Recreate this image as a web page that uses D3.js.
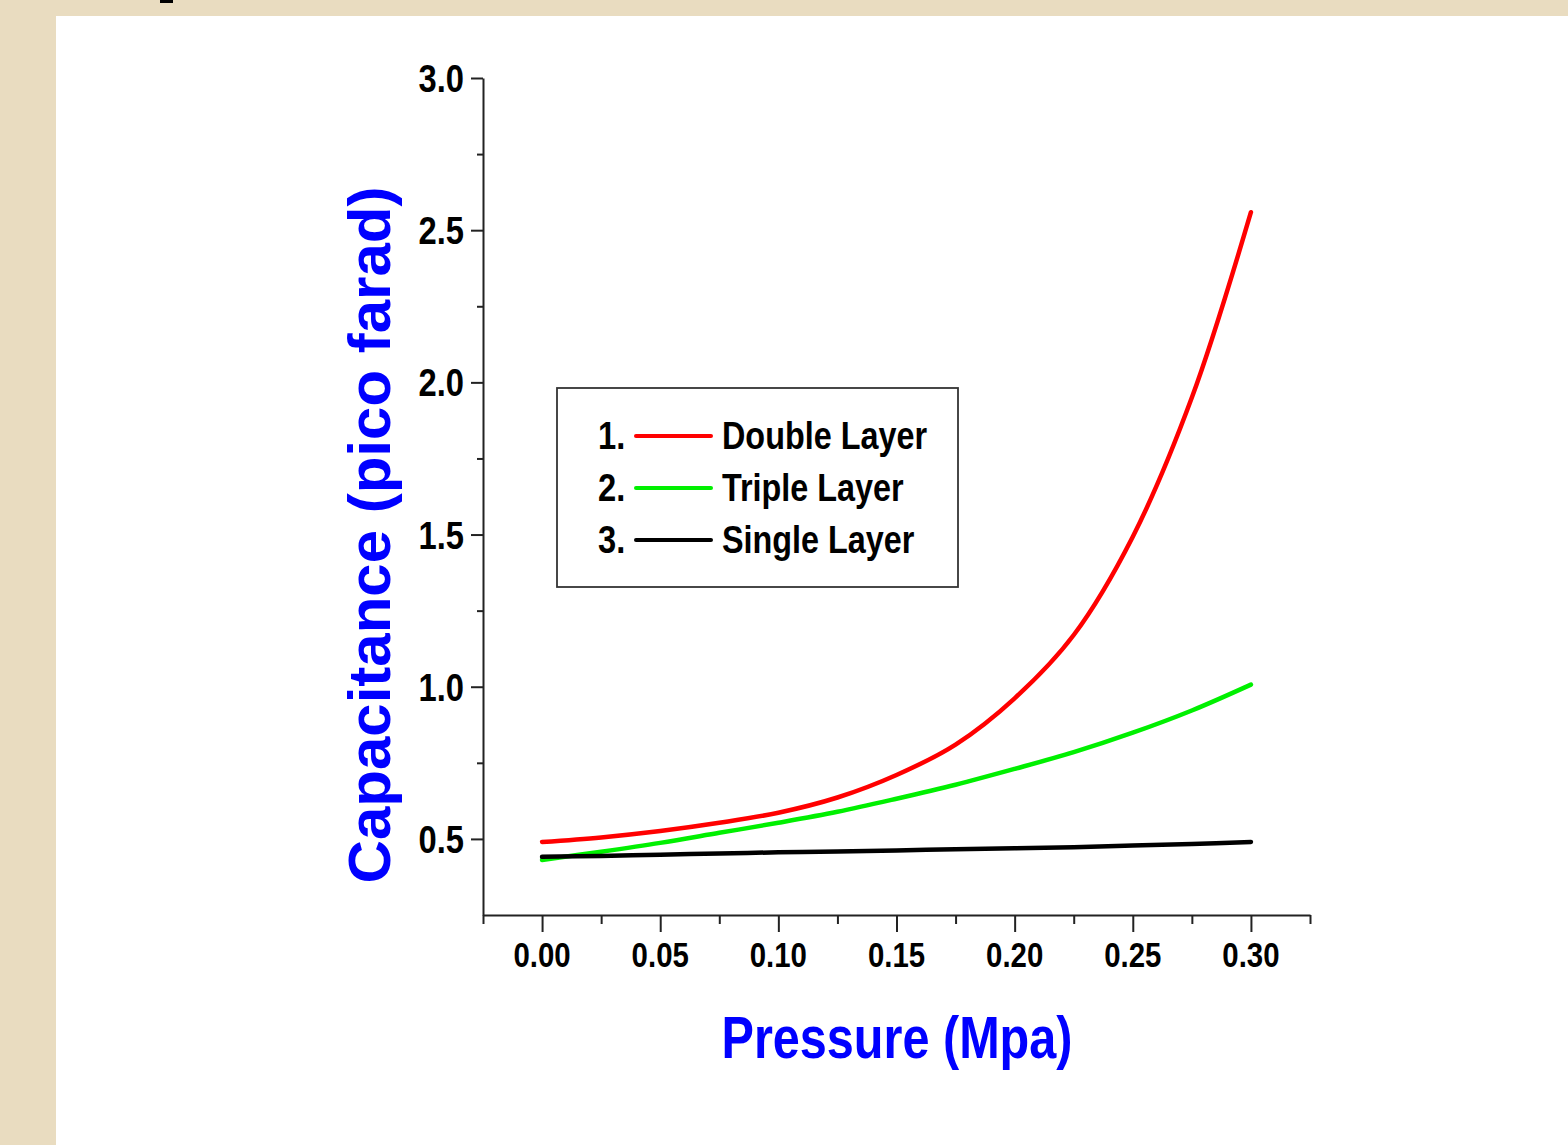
<!DOCTYPE html>
<html>
<head>
<meta charset="utf-8">
<title>Capacitance vs Pressure</title>
<script src="https://d3js.org/d3.v7.min.js"></script>
<style>
  body { margin: 0; background: #e9dcc0; }
  svg text { font-family: "Liberation Sans", Arial, sans-serif; font-weight: bold; }
</style>
</head>
<body>
<div id="chart"></div>
<script>
// data
var pressure = [0.000, 0.025, 0.050, 0.075, 0.100, 0.125, 0.150, 0.175, 0.200, 0.225, 0.250, 0.275, 0.300];
var doubleLayer = [0.490, 0.505, 0.526, 0.553, 0.586, 0.636, 0.710, 0.810, 0.962, 1.170, 1.493, 1.950, 2.559];
var tripleLayer = [0.431, 0.458, 0.487, 0.520, 0.553, 0.589, 0.632, 0.678, 0.730, 0.785, 0.849, 0.922, 1.007];
var singleLayer = [0.441, 0.444, 0.448, 0.452, 0.456, 0.459, 0.462, 0.466, 0.469, 0.473, 0.478, 0.483, 0.490];

var seriesNames = ["Double Layer", "Triple Layer", "Single Layer"];
var seriesColors = ["#ff0000", "#00f000", "#000000"];
var xTicks = [0.00, 0.05, 0.10, 0.15, 0.20, 0.25, 0.30];
var yTicks = [0.5, 1.0, 1.5, 2.0, 2.5, 3.0];

var W = 1568, H = 1145;
var svg = d3.select("#chart").append("svg")
    .attr("width", W)
    .attr("height", H);

// beige page + white panel
svg.append("rect").attr("width", W).attr("height", H).attr("fill", "#e9dcc0");
svg.append("rect").attr("x", 56).attr("y", 16).attr("width", W - 56).attr("height", H - 16).attr("fill", "#ffffff");
svg.append("rect").attr("x", 160).attr("y", 0).attr("width", 13).attr("height", 3).attr("fill", "#000");

var x = d3.scaleLinear().domain([-0.025, 0.325]).range([483, 1310]);
var y = d3.scaleLinear().domain([0.25, 3.0]).range([915, 78]);

var axisColor = "#222";

// x axis : minor + major ticks
var xMinor = d3.range(-0.025, 0.33, 0.05);
svg.append("g")
    .attr("transform", "translate(0,915)")
    .call(d3.axisBottom(x).tickValues(xMinor).tickSize(9).tickSizeOuter(0).tickFormat(""))
    .call(function (g) { g.select(".domain").attr("stroke", axisColor).attr("stroke-width", 2); })
    .call(function (g) { g.selectAll(".tick line").attr("stroke", axisColor).attr("stroke-width", 2); });
svg.append("g")
    .attr("transform", "translate(0,915)")
    .call(d3.axisBottom(x).tickValues(xTicks).tickSize(17).tickSizeOuter(0).tickFormat(""))
    .call(function (g) { g.select(".domain").remove(); })
    .call(function (g) { g.selectAll(".tick line").attr("stroke", axisColor).attr("stroke-width", 2); });

svg.selectAll(".xlab").data(xTicks).enter().append("text")
    .attr("class", "xlab")
    .attr("transform", function (d) { return "translate(" + x(d) + ",967) scale(0.84,1)"; })
    .attr("text-anchor", "middle")
    .attr("font-size", 35)
    .attr("fill", "#000")
    .text(function (d) { return d3.format(".2f")(d); });

// y axis
var yMinor = d3.range(0.75, 3.0, 0.5);
svg.append("g")
    .attr("transform", "translate(483,0)")
    .call(d3.axisLeft(y).tickValues(yMinor).tickSize(6).tickSizeOuter(0).tickFormat(""))
    .call(function (g) { g.select(".domain").attr("stroke", axisColor).attr("stroke-width", 2); })
    .call(function (g) { g.selectAll(".tick line").attr("stroke", axisColor).attr("stroke-width", 2); });
svg.append("g")
    .attr("transform", "translate(483,0)")
    .call(d3.axisLeft(y).tickValues(yTicks).tickSize(12).tickSizeOuter(0).tickFormat(""))
    .call(function (g) { g.select(".domain").remove(); })
    .call(function (g) { g.selectAll(".tick line").attr("stroke", axisColor).attr("stroke-width", 2); });

svg.selectAll(".ylab").data(yTicks).enter().append("text")
    .attr("class", "ylab")
    .attr("transform", function (d) { return "translate(464," + (y(d) + 14) + ") scale(0.84,1)"; })
    .attr("text-anchor", "end")
    .attr("font-size", 39)
    .attr("fill", "#000")
    .text(function (d) { return d3.format(".1f")(d); });

// axis titles
svg.append("text")
    .attr("transform", "translate(897,1058) scale(0.81,1)")
    .attr("text-anchor", "middle")
    .attr("font-size", 60)
    .attr("fill", "#0000ff")
    .text("Pressure (Mpa)");

svg.append("text")
    .attr("transform", "translate(390,535) rotate(-90)")
    .attr("text-anchor", "middle")
    .attr("font-size", 60)
    .attr("fill", "#0000ff")
    .text("Capacitance (pico farad)");

// curves
var allSeries = [doubleLayer, tripleLayer, singleLayer];
var line = d3.line()
    .x(function (d, i) { return x(pressure[i]); })
    .y(function (d) { return y(d); })
    .curve(d3.curveCatmullRom.alpha(0.5));

svg.selectAll(".curve").data(allSeries).enter().append("path")
    .attr("class", "curve")
    .attr("d", line)
    .attr("fill", "none")
    .attr("stroke", function (d, i) { return seriesColors[i]; })
    .attr("stroke-width", 4.5)
    .attr("stroke-linecap", "round");

// legend
var legend = svg.append("g");
legend.append("rect")
    .attr("x", 557).attr("y", 388)
    .attr("width", 401).attr("height", 199)
    .attr("fill", "#fff")
    .attr("stroke", "#333")
    .attr("stroke-width", 1.8);

var rowY = [436, 488, 540];
seriesNames.forEach(function (name, i) {
    legend.append("text")
        .attr("transform", "translate(598," + (rowY[i] + 13) + ") scale(0.84,1)")
        .attr("font-size", 39)
        .attr("fill", "#000")
        .text((i + 1) + ".");
    legend.append("line")
        .attr("x1", 636).attr("x2", 711)
        .attr("y1", rowY[i]).attr("y2", rowY[i])
        .attr("stroke", seriesColors[i])
        .attr("stroke-width", 4)
        .attr("stroke-linecap", "round");
    legend.append("text")
        .attr("transform", "translate(722," + (rowY[i] + 13) + ") scale(0.83,1)")
        .attr("font-size", 39)
        .attr("fill", "#000")
        .text(name);
});
</script>
</body>
</html>
